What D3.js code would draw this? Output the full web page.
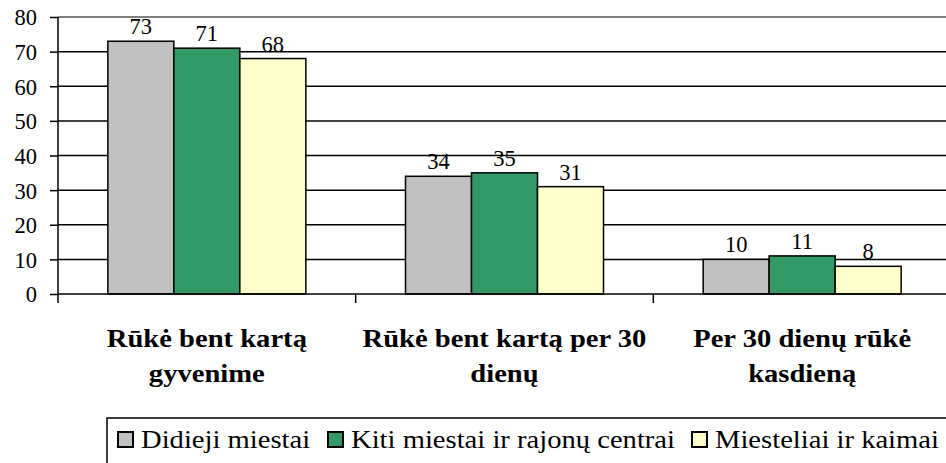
<!DOCTYPE html>
<html>
<head>
<meta charset="utf-8">
<script src="https://cdn.jsdelivr.net/npm/d3@7"></script>
</head>
<body style="margin:0">
<script>
// data
var categories = ["Rūkė bent kartą|gyvenime", "Rūkė bent kartą per 30|dienų", "Per 30 dienų rūkė|kasdieną"];
var seriesNames = ["Didieji miestai", "Kiti miestai ir rajonų centrai", "Miesteliai ir kaimai"];
var didieji = [73, 34, 10];
var kiti = [71, 35, 11];
var miesteliai = [68, 31, 8];
var yTicks = [0, 10, 20, 30, 40, 50, 60, 70, 80];
var colors = ["#c0c0c0", "#339966", "#ffffcc"];

var FONT = "'Liberation Serif', 'Times New Roman', serif";
var series = [didieji, kiti, miesteliai];
var width = 946, height = 463;
var mLeft = 58, mTop = 17, plotW = 893, mBottom = 294;
var stretch = 1.1; // text in the picture is a bit wider than it is tall
var legendX = [117, 327, 691];

var svg = d3.select("body").append("svg")
    .attr("width", width)
    .attr("height", height)
    .attr("font-family", FONT);

var x = d3.scaleBand().domain(d3.range(categories.length)).range([mLeft, mLeft + plotW]);
var y = d3.scaleLinear().domain([0, 80]).range([mBottom, mTop]);

// gridlines
svg.append("g").selectAll("line")
    .data(yTicks.filter(d => d > 0))
  .enter().append("line")
    .attr("x1", mLeft).attr("x2", width)
    .attr("y1", d => y(d)).attr("y2", d => y(d))
    .attr("stroke", d => d == 80 ? "#808080" : "#000")
    .attr("stroke-width", d => d == 80 ? 2 : 1.5);

// bars
var bw = 66;
categories.forEach(function(c, i) {
  var cx = x(i) + x.bandwidth() / 2;
  series.forEach(function(s, j) {
    var bx = cx - bw * 1.5 + j * bw;
    svg.append("rect")
      .attr("x", bx).attr("y", y(s[i]))
      .attr("width", bw).attr("height", y(0) - y(s[i]))
      .attr("fill", colors[j])
      .attr("stroke", "#000").attr("stroke-width", 1.5);
    svg.append("text")
      .attr("x", bx + bw / 2).attr("y", y(s[i]) - 7)
      .attr("text-anchor", "middle")
      .attr("font-family", FONT).attr("font-size", 22.5)
      .text(s[i]);
  });
});

// y axis
var yAxis = d3.axisLeft(y).tickValues(yTicks).tickSize(8).tickPadding(13);
var ya = svg.append("g").attr("transform", "translate(" + mLeft + ",0)").call(yAxis)
    .attr("font-family", FONT).attr("font-size", 22.5);
ya.select(".domain").attr("stroke", "#000").attr("stroke-width", 1.5).attr("d", "M0," + mTop + "V" + (mBottom + 9));
ya.selectAll(".tick line").attr("stroke-width", 1.5);
ya.selectAll(".tick text").attr("font-family", FONT).attr("font-size", 22.5).attr("dy", "0.35em");

// x axis line and ticks
svg.append("line").attr("x1", mLeft).attr("x2", width).attr("y1", mBottom).attr("y2", mBottom)
   .attr("stroke", "#000").attr("stroke-width", 1.5);
svg.append("g").selectAll("line")
    .data(d3.range(1, categories.length + 1))
  .enter().append("line")
    .attr("x1", d => mLeft + d * x.bandwidth()).attr("x2", d => mLeft + d * x.bandwidth())
    .attr("y1", mBottom).attr("y2", mBottom + 9)
    .attr("stroke", "#000").attr("stroke-width", 1.5);

// category labels
categories.forEach(function(c, i) {
  var g = svg.append("g")
    .attr("transform", "translate(" + (x(i) + x.bandwidth() / 2) + ",347) scale(" + stretch + ",1)");
  var t = g.append("text")
    .attr("text-anchor", "middle")
    .attr("font-family", FONT).attr("font-weight", "bold").attr("font-size", 26);
  c.split("|").forEach(function(line, k) {
    t.append("tspan").attr("x", 0).attr("y", k * 35).text(line);
  });
});

// legend
var lg = svg.append("g");
lg.append("rect").attr("x", 107).attr("y", 418).attr("width", 860).attr("height", 60)
  .attr("fill", "#fff").attr("stroke", "#000").attr("stroke-width", 1.5);
seriesNames.forEach(function(n, j) {
  var lx = legendX[j];
  lg.append("rect").attr("x", lx + 1).attr("y", 432).attr("width", 15).attr("height", 15)
    .attr("fill", colors[j]).attr("stroke", "#000").attr("stroke-width", 2);
  lg.append("g").attr("transform", "translate(" + (lx + 24) + ",448) scale(" + stretch + ",1)")
    .append("text")
    .attr("font-family", FONT).attr("font-size", 26).text(n);
});
</script>
</body>
</html>
